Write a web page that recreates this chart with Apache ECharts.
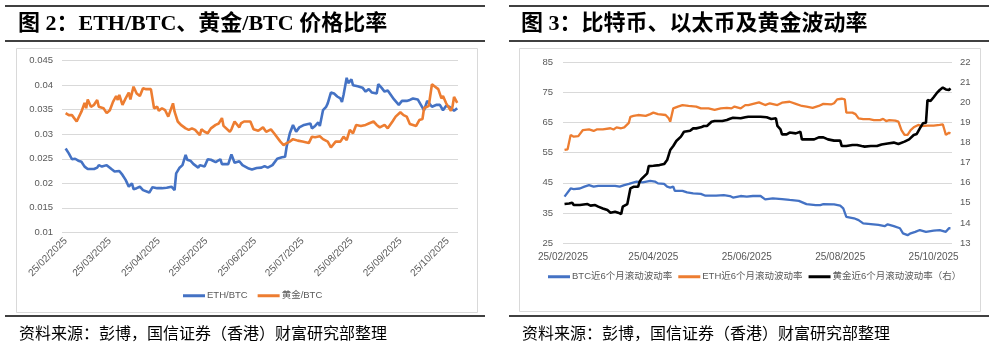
<!DOCTYPE html>
<html>
<head>
<meta charset="utf-8">
<script src="https://cdn.jsdelivr.net/npm/echarts@6/dist/echarts.min.js"></script>
<style>
html,body{margin:0;padding:0;background:#fff;}
#main{width:996px;height:351px;}
</style>
</head>
<body>
<div id="main"></div>
<script>
// x values are days since 25/02/2025
var leftTickDays = [0, 28, 59, 89, 120, 150, 181, 212, 242];
var leftTickLabels = ['25/02/2025','25/03/2025','25/04/2025','25/05/2025','25/06/2025','25/07/2025','25/08/2025','25/09/2025','25/10/2025'];
var rightTickDays = [0, 59, 120, 181, 242];
var rightTickLabels = ['25/02/2025','25/04/2025','25/06/2025','25/08/2025','25/10/2025'];

// 图2 ETH/BTC
var ethBtcDays = [0,2,4,6,8,10,12,14,18,20,21,23,26,29,31,34,36,38,40,42,43,45,47,49,53,55,58,61,64,67,69,70,72,74,76,77,79,81,84,85,88,90,92,95,98,99,103,105,107,110,112,116,118,121,124,126,128,131,134,137,139,140,142,144,146,148,151,155,156,158,160,161,163,165,166,168,170,172,174,175,176,178,179,181,182,185,188,190,192,194,197,198,200,202,204,208,211,213,216,218,220,223,225,227,229,230,232,235,237,239,241,243,246,248];
var ethBtcVals = [0.0271,0.0261,0.0249,0.0250,0.0246,0.0244,0.0234,0.0229,0.0229,0.0232,0.0237,0.0234,0.0237,0.0229,0.0224,0.0225,0.0217,0.0207,0.0193,0.0200,0.0188,0.0190,0.0193,0.0186,0.0181,0.0192,0.0190,0.0190,0.0191,0.0193,0.0186,0.0220,0.0231,0.0237,0.0258,0.0248,0.0246,0.0239,0.0232,0.0237,0.0234,0.0249,0.0248,0.0243,0.0249,0.0239,0.0239,0.0259,0.0242,0.0245,0.0237,0.0230,0.0228,0.0231,0.0232,0.0235,0.0232,0.0237,0.0250,0.0253,0.0254,0.0275,0.0302,0.0319,0.0305,0.0314,0.0319,0.0322,0.0312,0.0317,0.0324,0.0317,0.0349,0.0356,0.0363,0.0385,0.0383,0.0377,0.0373,0.0366,0.0380,0.0415,0.0404,0.0412,0.0400,0.0398,0.0395,0.0387,0.0392,0.0385,0.0383,0.0402,0.0395,0.0387,0.0389,0.0371,0.0360,0.0368,0.0368,0.0370,0.0373,0.0371,0.0360,0.0349,0.0368,0.0371,0.0356,0.0360,0.0360,0.0349,0.0358,0.0356,0.0348,0.0353];

// 图2 黄金/BTC
var goldBtcDays = [0,2,4,7,8,10,12,13,14,16,18,20,21,24,26,28,30,32,33,34,36,38,40,41,43,45,47,49,51,54,56,58,59,61,63,65,66,68,69,71,73,76,78,80,82,85,86,88,90,92,95,97,99,100,104,105,107,110,111,113,117,119,122,125,127,130,132,136,138,140,142,144,147,150,154,156,158,161,163,166,168,171,174,176,178,180,182,184,187,190,192,195,197,199,202,204,207,209,212,214,216,218,222,224,226,227,230,232,234,236,238,239,241,244,245,246,248];
var goldBtcVals = [0.0343,0.0339,0.0339,0.0326,0.0329,0.0346,0.0364,0.0353,0.0371,0.0356,0.0360,0.0370,0.0356,0.0353,0.0343,0.0349,0.0366,0.0378,0.0370,0.0380,0.0360,0.0373,0.0385,0.0371,0.0397,0.0383,0.0378,0.0394,0.0392,0.0392,0.0353,0.0356,0.0348,0.0353,0.0349,0.0336,0.0339,0.0363,0.0346,0.0326,0.0319,0.0312,0.0309,0.0312,0.0309,0.0298,0.0310,0.0305,0.0302,0.0312,0.0319,0.0322,0.0333,0.0317,0.0305,0.0310,0.0326,0.0314,0.0322,0.0326,0.0326,0.0310,0.0307,0.0314,0.0305,0.0310,0.0302,0.0285,0.0278,0.0282,0.0285,0.0290,0.0287,0.0285,0.0282,0.0295,0.0294,0.0296,0.0290,0.0285,0.0273,0.0285,0.0285,0.0295,0.0288,0.0309,0.0302,0.0319,0.0317,0.0319,0.0322,0.0326,0.0319,0.0314,0.0319,0.0312,0.0326,0.0336,0.0345,0.0339,0.0336,0.0321,0.0317,0.0329,0.0331,0.0353,0.0358,0.0402,0.0397,0.0392,0.0373,0.0378,0.0363,0.0348,0.0356,0.0376,0.0364];

// 图3 BTC近6个月滚动波动率
var btcVolDays = [1,2,5,6,7,11,14,17,20,23,28,34,37,40,43,44,48,52,57,60,62,66,68,70,72,73,78,81,85,90,93,100,105,109,111,116,120,124,129,132,137,143,148,154,159,165,168,170,177,181,183,185,190,193,196,201,206,210,212,216,220,222,225,227,230,233,237,242,246,250,252,253];
var btcVolVals = [40.4,40.6,43.1,43.7,42.9,43.1,43.7,44.2,43.7,44.0,44.0,44.0,43.7,44.2,44.6,45.1,45.4,45.1,45.6,45.4,44.8,44.6,43.7,43.4,43.7,42.3,42.3,41.8,41.5,41.3,40.7,40.7,40.9,40.6,40.1,40.6,40.4,40.6,40.6,39.5,39.8,39.6,39.3,39.0,37.9,37.6,37.6,37.9,37.8,37.4,36.5,33.7,33.2,32.6,31.5,31.3,31.0,30.6,31.2,30.6,29.9,28.2,27.6,28.2,28.7,29.3,28.7,29.1,29.3,28.7,29.9,29.9];

// 图3 ETH近6个月滚动波动率
var ethVolDays = [1,3,5,6,7,10,13,17,20,22,26,31,33,35,38,40,43,44,46,49,54,57,59,62,67,69,70,72,75,78,82,87,90,95,99,103,107,110,112,116,119,121,128,132,135,140,143,148,152,156,159,163,167,170,175,177,179,182,184,185,189,191,193,196,200,203,207,209,211,213,217,219,221,223,225,227,229,232,234,238,242,246,248,249,250,252,253];
var ethVolVals = [55.9,56.1,60.9,61.4,60.3,60.5,62.5,62.7,62.2,62.7,62.7,63.1,62.7,63.4,63.1,63.4,64.9,66.9,67.2,67.5,67.2,67.8,68.3,67.8,67.5,66.4,65.3,69.7,70.3,70.8,70.5,70.3,69.7,69.7,69.2,69.7,69.9,69.7,70.3,69.7,70.8,70.8,71.7,70.8,71.4,70.8,71.6,71.9,71.2,70.5,70.3,69.9,70.5,71.2,71.0,71.4,72.7,72.9,72.7,68.3,68.3,67.8,66.4,66.1,66.1,65.8,65.8,66.2,65.5,65.8,65.6,65.3,62.5,60.9,60.9,62.5,63.4,64.2,63.8,64.0,64.0,64.2,64.4,62.7,60.9,61.6,61.4];

// 图3 黄金近6个月滚动波动率（右）
var goldVolDays = [1,4,6,7,11,16,18,21,23,26,29,31,34,36,38,39,42,43,44,46,49,50,51,55,56,59,63,66,68,70,72,74,77,79,80,83,85,87,90,92,94,97,99,104,107,109,111,116,119,121,123,129,133,136,139,140,142,143,146,148,152,155,156,159,164,167,170,173,177,181,182,185,189,192,195,197,201,205,208,212,216,219,223,226,229,231,233,235,237,238,239,240,242,244,246,248,250,251,252,253];
var goldVolVals = [14.94,14.97,15.01,14.89,14.89,14.94,14.86,14.89,14.81,14.72,14.64,14.51,14.56,14.51,14.44,14.81,14.94,14.89,15.72,15.80,15.80,16.05,16.17,16.47,16.83,16.85,16.88,16.93,17.13,17.63,17.83,18.08,18.30,18.54,18.59,18.59,18.71,18.71,18.76,18.83,18.83,19.04,19.08,19.08,19.13,19.19,19.24,19.21,19.26,19.29,19.29,19.29,19.26,19.18,19.21,18.83,18.66,18.41,18.41,18.50,18.46,18.54,18.16,18.16,18.16,18.26,18.26,18.16,18.10,18.10,17.83,17.83,17.88,17.88,17.83,17.80,17.83,17.83,17.91,17.96,18.00,17.93,18.05,18.16,18.38,18.43,18.71,18.96,18.99,20.12,20.16,20.07,20.26,20.46,20.62,20.74,20.65,20.70,20.62,20.70];

function pairs(days, vals){
    var out = [];
    for (var i = 0; i < days.length; i++) out.push([days[i], vals[i]]);
    return out;
}

var axisFont = {color:'#595959', fontSize:9.5, fontFamily:'Liberation Sans, Noto Sans CJK SC, sans-serif'};
var gridLine = {show:true, lineStyle:{color:'#d9d9d9', width:1}};
var titleFont = {fontFamily:'Liberation Serif, Noto Sans CJK SC, serif', fontWeight:'bold', fontSize:22, color:'#000'};
var footFont = {fontFamily:'Noto Sans CJK SC, sans-serif', fontWeight:'normal', fontSize:16, color:'#000'};

function rule(x1, x2, y){
    return {type:'line', shape:{x1:x1, y1:y, x2:x2, y2:y}, style:{stroke:'#000', lineWidth:1.5}, silent:true};
}

var myChart = echarts.init(document.getElementById('main'), null, {renderer:'canvas'});
var option = {
    backgroundColor:'#fff',
    animation:false,
    title:[
        {text:'图 2：ETH/BTC、黄金/BTC 价格比率', left:18, top:13, padding:0, textStyle:titleFont},
        {text:'图 3：比特币、以太币及黄金波动率', left:521, top:13, padding:0, textStyle:titleFont},
        {text:'资料来源：彭博，国信证券（香港）财富研究部整理', left:19, top:325, padding:0, textStyle:footFont},
        {text:'资料来源：彭博，国信证券（香港）财富研究部整理', left:522, top:325, padding:0, textStyle:footFont}
    ],
    graphic:[
        rule(5, 485, 6), rule(5, 485, 41), rule(5, 485, 316),
        rule(509, 989, 6), rule(509, 989, 41), rule(509, 989, 316),
        {type:'rect', shape:{x:16.5, y:48.5, width:461, height:264}, style:{fill:'none', stroke:'#d9d9d9', lineWidth:1}, silent:true},
        {type:'rect', shape:{x:519.5, y:48.5, width:461, height:263}, style:{fill:'none', stroke:'#d9d9d9', lineWidth:1}, silent:true}
    ],
    legend:[
        {
            left:183, top:291, padding:0, itemGap:10, itemWidth:22, itemHeight:3, icon:'rect',
            textStyle:{color:'#595959', fontSize:9.5, fontFamily:'Liberation Sans, Noto Sans CJK SC, sans-serif', padding:[0,0,0,-3]},
            data:['ETH/BTC','黄金/BTC']
        },
        {
            left:548, top:272, padding:0, itemGap:6, itemWidth:22, itemHeight:3, icon:'rect',
            textStyle:{color:'#595959', fontSize:9.5, fontFamily:'Liberation Sans, Noto Sans CJK SC, sans-serif', padding:[0,0,0,-3]},
            data:['BTC近6个月滚动波动率','ETH近6个月滚动波动率','黄金近6个月滚动波动率（右）']
        }
    ],
    grid:[
        {left:62, top:60.7, width:396, height:171.6},
        {left:563, top:62.3, width:389, height:180.7}
    ],
    xAxis:[
        {
            gridIndex:0, type:'value', min:-2.3, max:248.5,
            axisLine:{show:false}, axisTick:{show:false}, splitLine:{show:false},
            axisLabel:Object.assign({}, axisFont, {
                fontSize:10, rotate:45, margin:7, customValues:leftTickDays,
                formatter:function(v){ var i = leftTickDays.indexOf(Math.round(v)); return i < 0 ? '' : leftTickLabels[i]; }
            })
        },
        {
            gridIndex:1, type:'value', min:0, max:254,
            axisLine:{show:false}, axisTick:{show:false}, splitLine:{show:false},
            axisLabel:Object.assign({}, axisFont, {
                fontSize:10, margin:9, customValues:rightTickDays,
                formatter:function(v){ var i = rightTickDays.indexOf(Math.round(v)); return i < 0 ? '' : rightTickLabels[i]; }
            })
        }
    ],
    yAxis:[
        {
            gridIndex:0, type:'value', min:0.01, max:0.045, interval:0.005,
            axisLine:{show:false}, axisTick:{show:false}, splitLine:gridLine,
            axisLabel:Object.assign({}, axisFont, {margin:9, formatter:function(v){ return String(+v.toFixed(3)); }})
        },
        {
            gridIndex:1, type:'value', min:25, max:85, interval:10,
            axisLine:{show:false}, axisTick:{show:false}, splitLine:gridLine,
            axisLabel:Object.assign({}, axisFont, {margin:10})
        },
        {
            gridIndex:1, type:'value', position:'right', min:13, max:22, interval:1,
            axisLine:{show:false}, axisTick:{show:false}, splitLine:{show:false},
            axisLabel:Object.assign({}, axisFont, {margin:8})
        }
    ],
    series:[
        {name:'ETH/BTC', type:'line', xAxisIndex:0, yAxisIndex:0, showSymbol:false, color:'#4472C4', lineStyle:{width:2.6, color:'#4472C4'}, data:pairs(ethBtcDays, ethBtcVals)},
        {name:'黄金/BTC', type:'line', xAxisIndex:0, yAxisIndex:0, showSymbol:false, color:'#ED7D31', lineStyle:{width:2.6, color:'#ED7D31'}, data:pairs(goldBtcDays, goldBtcVals)},
        {name:'BTC近6个月滚动波动率', type:'line', xAxisIndex:1, yAxisIndex:1, showSymbol:false, color:'#4472C4', lineStyle:{width:2.3, color:'#4472C4'}, data:pairs(btcVolDays, btcVolVals)},
        {name:'ETH近6个月滚动波动率', type:'line', xAxisIndex:1, yAxisIndex:1, showSymbol:false, color:'#ED7D31', lineStyle:{width:2.3, color:'#ED7D31'}, data:pairs(ethVolDays, ethVolVals)},
        {name:'黄金近6个月滚动波动率（右）', type:'line', xAxisIndex:1, yAxisIndex:2, showSymbol:false, color:'#000', lineStyle:{width:2.6, color:'#000'}, data:pairs(goldVolDays, goldVolVals)}
    ]
};
myChart.setOption(option);
</script>
</body>
</html>
